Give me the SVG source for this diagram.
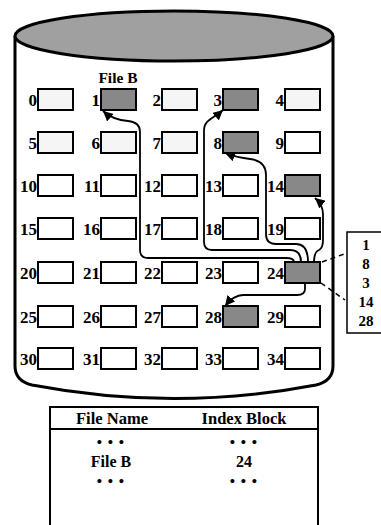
<svg xmlns="http://www.w3.org/2000/svg" width="381" height="525" viewBox="0 0 381 525">
<style>
text{font-family:"Liberation Serif","Times New Roman",serif;font-weight:bold;fill:#000}
.lbl{font-size:17px;text-anchor:end}
.blk{stroke:#000;stroke-width:2}
.lt{fill:#f5f5f5}
.wh{fill:#fff}
.dk{fill:#888}
.con{fill:none;stroke:#000;stroke-width:1.8}
.dash{fill:none;stroke:#000;stroke-width:1.5;stroke-dasharray:5 4}
.ctr{text-anchor:middle}
.dots{font-size:15px;letter-spacing:1px}
</style>
<defs>
<marker id="ah" markerUnits="userSpaceOnUse" markerWidth="12" markerHeight="10" refX="10" refY="5" orient="auto">
<path d="M0,0 L10,5 L0,10 Z" fill="#000"/>
</marker>
</defs>
<rect width="381" height="525" fill="#fff"/>
<g id="disk">
<path d="M15,36 V366 Q15,381 32,385 Q174,412 316,385 Q333,381 333,366 V36" fill="#fff" stroke="#000" stroke-width="3"/>
<ellipse cx="174" cy="36" rx="159" ry="25" fill="#a0a0a0" stroke="#000" stroke-width="3"/>
</g>
<text x="118" y="83" class="ctr" font-size="15.5">File B</text>
<g id="b0"><rect class="blk lt" x="38" y="89" width="35" height="21"/><text class="lbl" x="37" y="106">0</text></g>
<g id="b1"><rect class="blk dk" x="101" y="89" width="35" height="21"/><text class="lbl" x="100" y="106">1</text></g>
<g id="b2"><rect class="blk lt" x="162" y="89" width="35" height="21"/><text class="lbl" x="161" y="106">2</text></g>
<g id="b3"><rect class="blk dk" x="223" y="89" width="35" height="21"/><text class="lbl" x="222" y="106">3</text></g>
<g id="b4"><rect class="blk lt" x="285" y="89" width="35" height="21"/><text class="lbl" x="284" y="106">4</text></g>
<g id="b5"><rect class="blk lt" x="38" y="132" width="35" height="21"/><text class="lbl" x="37" y="149">5</text></g>
<g id="b6"><rect class="blk lt" x="101" y="132" width="35" height="21"/><text class="lbl" x="100" y="149">6</text></g>
<g id="b7"><rect class="blk lt" x="162" y="132" width="35" height="21"/><text class="lbl" x="161" y="149">7</text></g>
<g id="b8"><rect class="blk dk" x="223" y="132" width="35" height="21"/><text class="lbl" x="222" y="149">8</text></g>
<g id="b9"><rect class="blk wh" x="285" y="132" width="35" height="21"/><text class="lbl" x="284" y="149">9</text></g>
<g id="b10"><rect class="blk wh" x="38" y="175" width="35" height="21"/><text class="lbl" x="37" y="192">10</text></g>
<g id="b11"><rect class="blk wh" x="101" y="175" width="35" height="21"/><text class="lbl" x="100" y="192">11</text></g>
<g id="b12"><rect class="blk wh" x="162" y="175" width="35" height="21"/><text class="lbl" x="161" y="192">12</text></g>
<g id="b13"><rect class="blk wh" x="223" y="175" width="35" height="21"/><text class="lbl" x="222" y="192">13</text></g>
<g id="b14"><rect class="blk dk" x="285" y="175" width="35" height="21"/><text class="lbl" x="284" y="192">14</text></g>
<g id="b15"><rect class="blk wh" x="38" y="218" width="35" height="21"/><text class="lbl" x="37" y="235">15</text></g>
<g id="b16"><rect class="blk wh" x="101" y="218" width="35" height="21"/><text class="lbl" x="100" y="235">16</text></g>
<g id="b17"><rect class="blk wh" x="162" y="218" width="35" height="21"/><text class="lbl" x="161" y="235">17</text></g>
<g id="b18"><rect class="blk wh" x="223" y="218" width="35" height="21"/><text class="lbl" x="222" y="235">18</text></g>
<g id="b19"><rect class="blk wh" x="285" y="218" width="35" height="21"/><text class="lbl" x="284" y="235">19</text></g>
<g id="b20"><rect class="blk wh" x="38" y="262" width="35" height="21"/><text class="lbl" x="37" y="279">20</text></g>
<g id="b21"><rect class="blk wh" x="101" y="262" width="35" height="21"/><text class="lbl" x="100" y="279">21</text></g>
<g id="b22"><rect class="blk wh" x="162" y="262" width="35" height="21"/><text class="lbl" x="161" y="279">22</text></g>
<g id="b23"><rect class="blk wh" x="223" y="262" width="35" height="21"/><text class="lbl" x="222" y="279">23</text></g>
<g id="b24"><rect class="blk dk" x="285" y="262" width="35" height="21"/><text class="lbl" x="284" y="279">24</text></g>
<g id="b25"><rect class="blk wh" x="38" y="306" width="35" height="21"/><text class="lbl" x="37" y="323">25</text></g>
<g id="b26"><rect class="blk wh" x="101" y="306" width="35" height="21"/><text class="lbl" x="100" y="323">26</text></g>
<g id="b27"><rect class="blk wh" x="162" y="306" width="35" height="21"/><text class="lbl" x="161" y="323">27</text></g>
<g id="b28"><rect class="blk dk" x="223" y="306" width="35" height="21"/><text class="lbl" x="222" y="323">28</text></g>
<g id="b29"><rect class="blk wh" x="285" y="306" width="35" height="21"/><text class="lbl" x="284" y="323">29</text></g>
<g id="b30"><rect class="blk wh" x="38" y="348" width="35" height="21"/><text class="lbl" x="37" y="365">30</text></g>
<g id="b31"><rect class="blk wh" x="101" y="348" width="35" height="21"/><text class="lbl" x="100" y="365">31</text></g>
<g id="b32"><rect class="blk wh" x="162" y="348" width="35" height="21"/><text class="lbl" x="161" y="365">32</text></g>
<g id="b33"><rect class="blk wh" x="223" y="348" width="35" height="21"/><text class="lbl" x="222" y="365">33</text></g>
<g id="b34"><rect class="blk wh" x="285" y="348" width="35" height="21"/><text class="lbl" x="284" y="365">34</text></g>
<g id="indexlist">
<rect x="347" y="232" width="50" height="101" fill="#fff" stroke="#000" stroke-width="1.5"/>
<text class="ctr" x="366" y="250" font-size="15">1</text>
<text class="ctr" x="366" y="269" font-size="15">8</text>
<text class="ctr" x="366" y="288" font-size="15">3</text>
<text class="ctr" x="366" y="307" font-size="15">14</text>
<text class="ctr" x="366" y="326" font-size="15">28</text>
</g>
<g id="connectors">
<path class="con" marker-end="url(#ah)" d="M294,262 Q294,258 286,258 H148 Q140,258 140,250 V132 Q140,122 128,121 Q113,120 103,111"/>
<path class="con" marker-end="url(#ah)" d="M301,262 Q301,250 290,250 H212 Q204,250 204,242 V130 C204,120 214,118 223,110"/>
<path class="con" marker-end="url(#ah)" d="M308,262 Q308,244 296,244 H276 Q266,244 266,234 V175 Q266,161 250,159 C240,158 233,156 225,153"/>
<path class="con" marker-end="url(#ah)" d="M314,262 Q314,252 319,250 Q323,248 323,240 V214 Q323,205 315,198"/>
<path class="con" marker-end="url(#ah)" d="M305,283 V289 Q305,295 297,295 H243 Q234,295 225,306"/>
<path class="dash" d="M322,262 L347,253"/>
<path class="dash" d="M321,283 L345,300"/>
</g>
<g id="table">
<rect x="50" y="407" width="268" height="130" fill="#fff" stroke="#000" stroke-width="2"/>
<line x1="50" y1="429" x2="318" y2="429" stroke="#000" stroke-width="2"/>
<text class="ctr" x="112" y="424" font-size="16.5">File Name</text>
<text class="ctr" x="244" y="424" font-size="16.5">Index Block</text>
<text class="ctr dots" x="111" y="447">• • •</text>
<text class="ctr dots" x="244" y="447">• • •</text>
<text class="ctr" x="111" y="467" font-size="16">File B</text>
<text class="ctr" x="244" y="467" font-size="16">24</text>
<text class="ctr dots" x="111" y="486">• • •</text>
<text class="ctr dots" x="244" y="486">• • •</text>
</g>
</svg>
